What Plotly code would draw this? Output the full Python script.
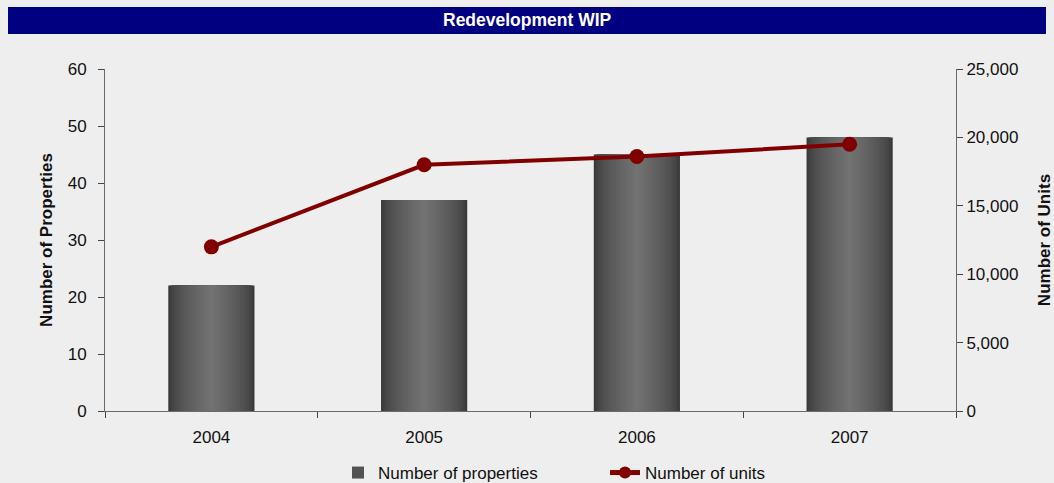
import plotly.graph_objects as go

years = ["2004", "2005", "2006", "2007"]
num_properties = [22, 37, 45, 48]
num_units = [12000, 18000, 18600, 19500]

W_BAR = 0.405
N_LAYERS = 24
EDGE = (56, 56, 56)
CENTER = (116, 116, 116)
FONT = "Arial, Liberation Sans, sans-serif"
FS = 17

fig = go.Figure()

for k in range(N_LAYERS):
    r = 1 - k / N_LAYERS
    t = (1 - r) ** 0.6
    c = tuple(int(EDGE[i] + (CENTER[i] - EDGE[i]) * t) for i in range(3))
    fig.add_trace(go.Bar(
        x=years, y=num_properties, width=W_BAR * r,
        marker=dict(color="rgb(%d,%d,%d)" % c, line=dict(width=0)),
        name="Number of properties",
        showlegend=(k == 6), legendgroup="props",
        hoverinfo="skip" if k else None,
        yaxis="y",
    ))

fig.add_trace(go.Scatter(
    x=years, y=num_units, name="Number of units",
    mode="lines+markers",
    line=dict(color="#800000", width=4),
    marker=dict(color="#800000", size=15),
    yaxis="y2",
))

L, R, T, B = 105, 98, 69, 72
PW, PH = 1054 - L - R, 483 - T - B

def px(x):
    return (x - L) / PW

def py(y):
    return (483 - B - y) / PH

fig.add_shape(type="rect", xref="paper", yref="paper",
              x0=px(8), x1=px(1046), y0=py(34), y1=py(7),
              fillcolor="#000080", line=dict(width=0), layer="below")
fig.add_annotation(text="<b>Redevelopment WIP</b>", xref="paper", yref="paper",
                   x=px(527), y=py(20.5), xanchor="center", yanchor="middle",
                   showarrow=False, font=dict(family=FONT, size=17.5, color="white"))

axis_common = dict(showgrid=False, zeroline=False, showline=True,
                   linecolor="#6a6a6a", linewidth=1, ticks="outside",
                   tickcolor="#444444", ticklen=6, tickfont=dict(family=FONT, size=FS, color="#111"))

fig.update_layout(
    width=1054, height=483,
    margin=dict(l=L, r=R, t=T, b=B, autoexpand=False),
    paper_bgcolor="#eeeeee", plot_bgcolor="#eeeeee",
    barmode="overlay",
    font=dict(family=FONT, size=FS, color="#111"),
    xaxis=dict(type="category", tickson="boundaries", ticklabelstandoff=11, **axis_common),
    yaxis=dict(range=[0, 60], dtick=10,
               title=dict(text="<b>Number of Properties</b>", font=dict(family=FONT, size=FS, color="#111"), standoff=10),
               ticklabelstandoff=8,
               **axis_common),
    yaxis2=dict(range=[0, 25000], dtick=5000, tickformat=",", overlaying="y", side="right",
                title=dict(text="<b>Number of Units</b>", font=dict(family=FONT, size=FS, color="#111"), standoff=20),
                **axis_common),
    legend=dict(orientation="h", x=px(338), y=py(473), xanchor="left", yanchor="middle",
                bgcolor="rgba(0,0,0,0)", font=dict(family=FONT, size=FS, color="#111"),
                entrywidth=222, entrywidthmode="pixels", itemsizing="constant"),
    showlegend=True,
)

fig.write_html("out.html")
